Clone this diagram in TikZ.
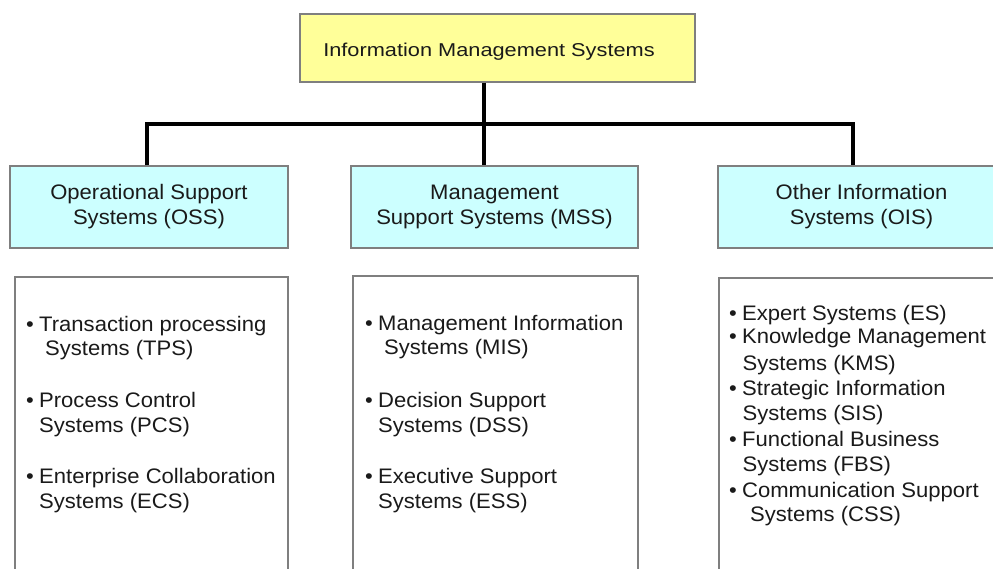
\documentclass[tikz,border=0pt]{standalone}
\usepackage{fontspec}
\setmainfont[FakeStretch=1.05]{Liberation Sans}
\newfontfamily\titlefont[FakeStretch=1.17]{Liberation Sans}
\definecolor{ttl}{HTML}{FFFF99}
\definecolor{hdr}{HTML}{CCFFFF}
\definecolor{bdr}{HTML}{7F7F7F}
\definecolor{txt}{HTML}{1A1A1A}
\newcommand\bul{\makebox[13pt][l]{•}}
\begin{document}
\begin{tikzpicture}[x=1pt,y=1pt,
  titlebox/.style={draw=bdr, line width=1.2pt, fill=ttl, minimum width=395pt, minimum height=68pt, inner sep=0pt},
  hdrbox/.style={draw=bdr, line width=1.2pt, fill=hdr, minimum height=82pt, inner sep=0pt, align=center, font=\fontsize{21}{25}\selectfont, text=txt},
  listbox/.style={draw=bdr, line width=1.2pt, fill=white, inner sep=0pt},
  item/.style={anchor=base west, inner sep=0pt, font=\fontsize{21}{25}\selectfont, text=txt},
  conn/.style={line width=4pt, black, line join=miter}]
\useasboundingbox (0,0) rectangle (993,-568);
\clip (0,0) rectangle (993,-568);
\fill[white] (0,0) rectangle (993,-568);

% top box
\node[titlebox] (ims) at (497.5,-48) {};
\node[anchor=base, inner sep=0pt, text=txt, font=\titlefont\fontsize{18.6}{22}\selectfont] (imst) at (489,-56) {Information Management Systems};

% header boxes
\node[hdrbox, minimum width=278pt] (oss) at (149,-207) {Operational Support\\Systems (OSS)};
\node[hdrbox, minimum width=287pt] (mss) at (494.5,-207) {Management\\Support Systems (MSS)};
\node[hdrbox, minimum width=287pt] (ois) at (861.5,-207) {Other Information\\Systems (OIS)};

% list boxes
\node[listbox, minimum width=273pt, minimum height=323pt] (ossl) at (151.5,-438.5) {};
\node[listbox, minimum width=285pt, minimum height=324pt] (mssl) at (495.5,-438) {};
\node[listbox, minimum width=286pt, minimum height=322pt] (oisl) at (862,-439) {};

% connectors
\coordinate (hub) at (484,-125);
\coordinate (lj) at (147,-124);
\coordinate (rj) at (853,-124);
\draw[conn] (ims.south -| hub) -- (mss.north -| hub);
\draw[conn] (oss.north -| lj) -- (lj) -- (rj) -- (ois.north -| rj);

% OSS items
\node[item] (o1) at (26,-331) {\bul Transaction processing};
\node[item] (o1b) at (45,-355) {Systems (TPS)};
\node[item] (o2) at (26,-407) {\bul Process Control};
\node[item] (o2b) at (39,-432) {Systems (PCS)};
\node[item] (o3) at (26,-483) {\bul Enterprise Collaboration};
\node[item] (o3b) at (39,-508) {Systems (ECS)};

% MSS items
\node[item] (m1) at (365,-330) {\bul Management Information};
\node[item] (m1b) at (384,-354) {Systems (MIS)};
\node[item] (m2) at (365,-407) {\bul Decision Support};
\node[item] (m2b) at (378,-432) {Systems (DSS)};
\node[item] (m3) at (365,-483) {\bul Executive Support};
\node[item] (m3b) at (378,-508) {Systems (ESS)};

% OIS items
\node[item] (s1) at (729,-320) {\bul Expert Systems (ES)};
\node[item] (s2) at (729,-343.5) {\bul Knowledge Management};
\node[item] (s2b) at (742.5,-370) {Systems (KMS)};
\node[item] (s3) at (729,-395) {\bul Strategic Information};
\node[item] (s3b) at (742.5,-420) {Systems (SIS)};
\node[item] (s4) at (729,-446) {\bul Functional Business};
\node[item] (s4b) at (742.5,-471.5) {Systems (FBS)};
\node[item] (s5) at (729,-497) {\bul Communication Support};
\node[item] (s5b) at (750,-521.5) {Systems (CSS)};
\end{tikzpicture}
\end{document}
